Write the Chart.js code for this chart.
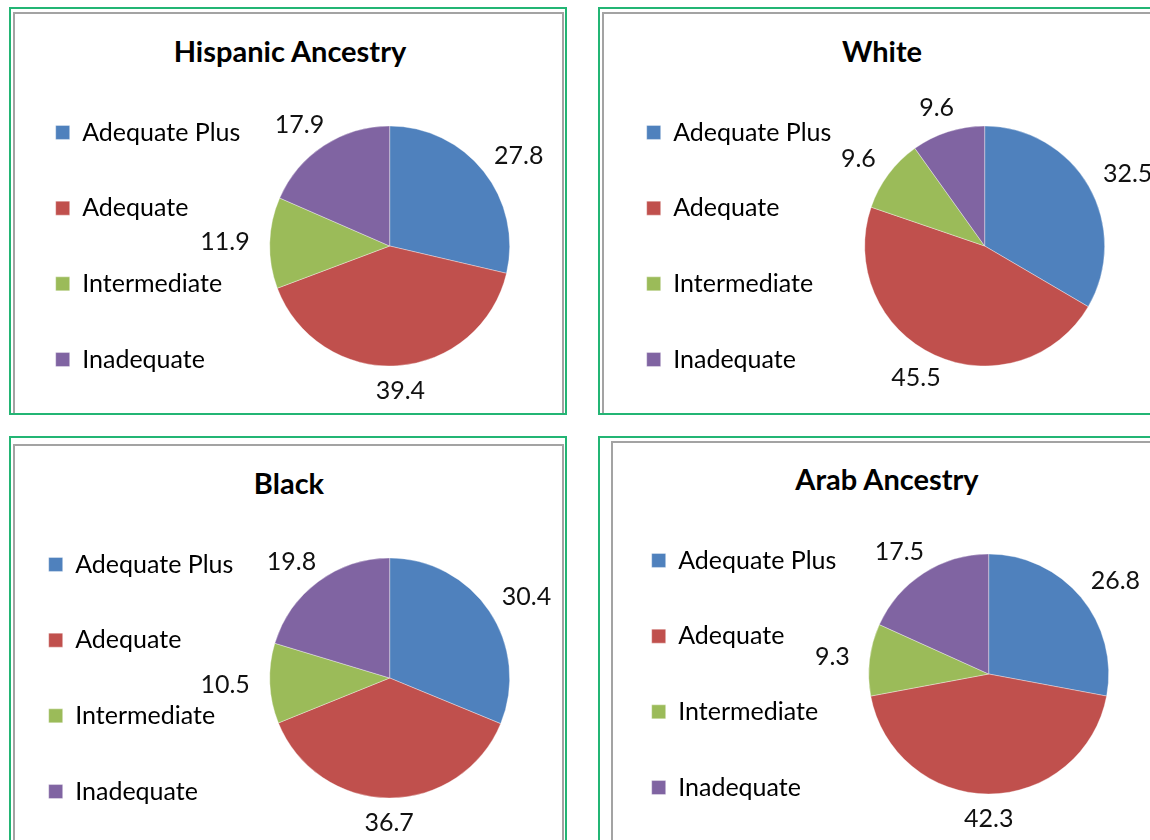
<!DOCTYPE html>
<html>
<head>
<meta charset="utf-8">
<script src="https://cdn.jsdelivr.net/npm/chart.js@4.4.1/dist/chart.umd.min.js"></script>
<style>
  body { margin: 0; width: 1150px; height: 840px; overflow: hidden; background: #fff; position: relative; }
  .frame { position: absolute; border: 2px solid #23b574; box-sizing: border-box; }
  .inner { position: absolute; border: 2px solid #a3a3a3; box-sizing: border-box; }
  .title { position: absolute; width: 500px; text-align: center; font: bold 29px Lato, sans-serif; line-height: 30px; color: #000; }
  canvas { position: absolute; }
</style>
</head>
<body>
<!-- panel frames: green outer line, gray inner line -->
<div class="inner" style="left:13px;top:12px;width:551px;height:403px"></div>
<div class="frame" style="left:9px;top:7px;width:558px;height:408px"></div>
<div class="inner" style="left:602px;top:12px;width:600px;height:403px"></div>
<div class="frame" style="left:598px;top:7px;width:600px;height:408px"></div>
<div class="inner" style="left:13px;top:444px;width:551px;height:420px"></div>
<div class="frame" style="left:9px;top:436px;width:558px;height:430px"></div>
<div class="inner" style="left:611px;top:441px;width:600px;height:420px"></div>
<div class="frame" style="left:598px;top:436px;width:600px;height:430px"></div>

<script>
// data
const categories = ['Adequate Plus', 'Adequate', 'Intermediate', 'Inadequate'];
const hispanicValues = [27.8, 39.4, 11.9, 17.9];
const whiteValues = [32.5, 45.5, 9.6, 9.6];
const blackValues = [30.4, 36.7, 10.5, 19.8];
const arabValues = [26.8, 42.3, 9.3, 17.5];
const chartTitles = ['Hispanic Ancestry', 'White', 'Black', 'Arab Ancestry'];

const sliceColors = ['#4f81bd', '#c0504d', '#9bbb59', '#8064a2'];

// where each panel puts its title, pie and first legend box
const panels = [
  { values: hispanicValues, tx: 290, ty: 52, px: 390, py: 246, bx: 56 },
  { values: whiteValues, tx: 882, ty: 52, px: 985, py: 246, bx: 647 },
  { values: blackValues, tx: 289, ty: 484, px: 390, py: 677.5, bx: 49 },
  { values: arabValues, tx: 887, ty: 480, px: 989, py: 674, bx: 652 }
];

const legendSize = 25;
const itemStep = 75.7;
const legendPad = itemStep - legendSize;
const pieRadius = 120;
const halfHeight = 181;
const padLeft = 10;
const padRight = 90;

// measure legend column so the pie lands where it should
const meas = document.createElement('canvas').getContext('2d');
meas.font = legendSize + 'px Lato';
const textW = Math.max(...categories.map(c => meas.measureText(c).width));
const legendW = legendPad + 14 + legendSize / 2 + textW + 10;

// value labels just outside each slice
const outsideLabels = {
  id: 'outsideLabels',
  afterDatasetsDraw(chart) {
    const ctx = chart.ctx;
    const meta = chart.getDatasetMeta(0);
    const vals = chart.data.datasets[0].data;
    ctx.save();
    ctx.font = legendSize + 'px Lato';
    ctx.fillStyle = '#111';
    ctx.textAlign = 'center';
    ctx.textBaseline = 'middle';
    meta.data.forEach((arc, i) => {
      const p = arc.getProps(['x', 'y', 'startAngle', 'endAngle', 'outerRadius'], true);
      const a = (p.startAngle + p.endAngle) / 2;
      const txt = vals[i].toFixed(1);
      const w = ctx.measureText(txt).width;
      const x = p.x + Math.cos(a) * (p.outerRadius + 20 + w / 2);
      const y = p.y + Math.sin(a) * (p.outerRadius + 14 + 11);
      ctx.fillText(txt, x, y);
    });
    ctx.restore();
  }
};

panels.forEach((pn, k) => {
  const t = document.createElement('div');
  t.className = 'title';
  t.textContent = chartTitles[k];
  t.style.left = (pn.tx - 250) + 'px';
  t.style.top = (pn.ty - 16) + 'px';
  document.body.appendChild(t);

  const legendLeft = pn.bx - legendPad;
  const avail = 2 * (pn.px - legendLeft) - legendW;
  const left = Math.round(legendLeft - padLeft);
  const width = Math.round(padLeft + avail + padRight);
  const top = Math.round(pn.py - halfHeight);
  const height = 2 * halfHeight;

  const cv = document.createElement('canvas');
  cv.width = width;
  cv.height = height;
  cv.style.left = left + 'px';
  cv.style.top = top + 'px';
  cv.style.width = width + 'px';
  cv.style.height = height + 'px';
  document.body.appendChild(cv);

  new Chart(cv, {
    type: 'pie',
    data: {
      labels: categories,
      datasets: [{
        data: pn.values,
        backgroundColor: sliceColors,
        borderColor: 'rgba(255,255,255,0.6)',
        borderWidth: 0.6,
        radius: pieRadius,
        hoverOffset: 0
      }]
    },
    options: {
      responsive: false,
      animation: false,
      devicePixelRatio: 1,
      layout: { padding: { left: padLeft, right: padRight, top: 0, bottom: 0 } },
      plugins: {
        legend: {
          position: 'left',
          labels: {
            boxWidth: 14,
            boxHeight: 14,
            padding: legendPad,
            color: '#000',
            font: { family: 'Lato', size: legendSize }
          }
        },
        tooltip: { enabled: false }
      }
    },
    plugins: [outsideLabels]
  });
});
</script>
</body>
</html>
